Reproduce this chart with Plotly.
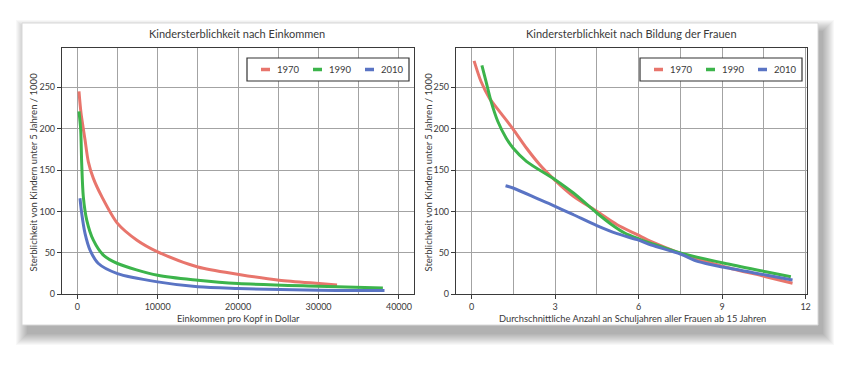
import plotly.graph_objects as go

W, H = 861, 368

# ---------------- data ----------------
inc_1970_x = [212, 462, 962, 1375, 2000, 3050, 5000, 7425, 10000, 15000, 20100, 25100, 30100, 32300]
inc_1970_y = [245, 219, 186.6, 160, 140, 118, 85.7, 65.4, 51.3, 33, 24, 17, 13, 11.3]
inc_1990_x = [212, 425, 550, 750, 1175, 2000, 3250, 5000, 10000, 15000, 20000, 30000, 38000]
inc_1990_y = [221, 198.7, 158, 118, 89.7, 65.4, 47.3, 37.2, 23, 17, 13, 9.7, 7.6]
inc_2010_x = [337, 550, 962, 1587, 2625, 5000, 10000, 15000, 20000, 30000, 38200]
inc_2010_y = [116, 97.8, 73.5, 53.3, 37.2, 25, 15, 9, 7, 4.8, 4.5]

edu_1970_x = [0.09, 0.34, 0.64, 1.0, 1.49, 1.97, 2.45, 3.0, 3.66, 4.5, 5.23, 5.95, 6.46, 7.5, 9.08, 10.57, 11.53]
edu_1970_y = [282, 257, 237, 221, 199.6, 176.7, 156.5, 137.7, 118.4, 100.2, 84, 72, 63.5, 49.5, 33.3, 21.3, 13.3]
edu_1990_x = [0.37, 0.52, 0.7, 0.94, 1.24, 1.49, 1.97, 3.0, 3.66, 4.5, 5.0, 5.5, 6.0, 6.5, 7.5, 9.08, 10.57, 11.47]
edu_1990_y = [276.6, 257, 233, 209, 188.8, 176.7, 160.6, 138.4, 122.3, 98.2, 85, 74, 67, 61, 50, 37.4, 27.3, 21.3]
edu_2010_x = [1.22, 1.49, 2.45, 3.0, 3.66, 4.5, 5.23, 5.95, 6.46, 7.5, 8.15, 9.08, 10.57, 11.53]
edu_2010_y = [131.2, 128.4, 114.3, 106.3, 96.1, 82.9, 73.2, 66, 59.5, 48.7, 39.4, 32.6, 23.3, 17.3]

years = ["1970", "1990", "2010"]
colors = ["#e8756c", "#3cb44b", "#5a74c4"]

titles = ["Kindersterblichkeit nach Einkommen", "Kindersterblichkeit nach Bildung der Frauen"]
xtitles = ["Einkommen pro Kopf in Dollar",
           "Durchschnittliche Anzahl an Schuljahren aller Frauen ab 15 Jahren"]
ytitle = "Sterblichkeit von Kindern unter 5 Jahren / 1000"
left_ticks = [0, 10000, 20000, 30000, 40000]
right_ticks = [0, 3, 6, 9, 12]
y_ticks = [0, 50, 100, 150, 200, 250]

FONT = "Lato, Roboto, sans-serif"
TXT = "#3a3a3a"


def X(px):
    return px / W


def Y(py):
    return 1 - py / H


fig = go.Figure()

left_sets = [(inc_1970_x, inc_1970_y), (inc_1990_x, inc_1990_y), (inc_2010_x, inc_2010_y)]
right_sets = [(edu_1970_x, edu_1970_y), (edu_1990_x, edu_1990_y), (edu_2010_x, edu_2010_y)]

for (xs, ys), c, yr in zip(left_sets, colors, years):
    fig.add_trace(go.Scatter(x=xs, y=ys, mode="lines", name=yr, xaxis="x", yaxis="y",
                             line=dict(color=c, width=3, shape="spline", smoothing=0.8),
                             showlegend=False, hoverinfo="skip"))
for (xs, ys), c, yr in zip(right_sets, colors, years):
    fig.add_trace(go.Scatter(x=xs, y=ys, mode="lines", name=yr, xaxis="x2", yaxis="y2",
                             line=dict(color=c, width=3, shape="spline", smoothing=0.8),
                             showlegend=False, hoverinfo="skip"))

GRID = "#a3a3a3"
AX = "#3a3a3a"
common = dict(showline=True, linecolor=AX, linewidth=1.2, mirror=True, ticks="outside",
              ticklen=4, tickcolor=AX, zeroline=False, showgrid=True, gridcolor=GRID,
              gridwidth=1, tickfont=dict(family=FONT, size=9, color=TXT), automargin=False)

left_dom = [X(62), X(414)]
right_dom = [X(456), X(807)]
ydom = [Y(294.3), Y(48)]

fig.update_layout(
    width=W, height=H,
    margin=dict(l=0, r=0, t=0, b=0),
    paper_bgcolor="white", plot_bgcolor="white",
    template="none",
    xaxis=dict(domain=left_dom, range=[-1900, 41870], tickvals=left_ticks,
               ticktext=[str(v) for v in left_ticks],
               minor=dict(tickvals=[5000, 15000, 25000, 35000], showgrid=True, gridcolor=GRID,
                          gridwidth=1, ticks=""),
               anchor="y", **common),
    yaxis=dict(domain=ydom, range=[0, 297.5], tickvals=y_ticks, ticktext=[str(v) for v in y_ticks],
               anchor="x", **common),
    xaxis2=dict(domain=right_dom, range=[-0.56, 12.05], tickvals=right_ticks,
                ticktext=[str(v) for v in right_ticks],
                minor=dict(tickvals=[1.5, 4.5, 7.5, 10.5], showgrid=True, gridcolor=GRID,
                           gridwidth=1, ticks=""),
                anchor="y2", **common),
    yaxis2=dict(domain=ydom, range=[0, 297.5], tickvals=y_ticks, ticktext=[str(v) for v in y_ticks],
                anchor="x2", **common),
)

shapes = []
# card shadow
for k in range(12):
    s = k * 1.0
    shapes.append(dict(type="rect", xref="paper", yref="paper", layer="below",
                       x0=X(22 + 5 - s), x1=X(818 + 5 + s), y0=Y(325 + 9 + s), y1=Y(23 + 8 - s),
                       fillcolor="rgba(0,0,0,0.026)", line=dict(width=0)))
# card
shapes.append(dict(type="rect", xref="paper", yref="paper", layer="below",
                   x0=X(22), x1=X(818), y0=Y(325), y1=Y(23),
                   fillcolor="white", line=dict(color="#d8d8d8", width=1)))

annotations = []
# manual legends
for lx in (247, 640):
    shapes.append(dict(type="rect", xref="paper", yref="paper", layer="above",
                       x0=X(lx), x1=X(lx + 162), y0=Y(81), y1=Y(58),
                       fillcolor="white", line=dict(color="#333333", width=1.2)))
    for i, (c, yr) in enumerate(zip(colors, years)):
        off = lx + 14 + i * 52
        shapes.append(dict(type="line", xref="paper", yref="paper", layer="above",
                           x0=X(off), x1=X(off + 9), y0=Y(69.5), y1=Y(69.5),
                           line=dict(color=c, width=3.5)))
        annotations.append(dict(xref="paper", yref="paper", x=X(off + 14), y=Y(69.5),
                                text=yr, showarrow=False, xanchor="left", yanchor="middle",
                                font=dict(family=FONT, size=9.5, color=TXT)))

# titles
for cx, t in zip((237, 631), titles):
    annotations.append(dict(xref="paper", yref="paper", x=X(cx), y=Y(34), text=t, showarrow=False,
                            xanchor="center", yanchor="middle",
                            font=dict(family=FONT, size=11, color=TXT)))
for cx, t in zip((238.5, 632), xtitles):
    annotations.append(dict(xref="paper", yref="paper", x=X(cx), y=Y(318), text=t, showarrow=False,
                            xanchor="center", yanchor="middle",
                            font=dict(family=FONT, size=9.3, color=TXT)))
for cx in (32.5, 427.5):
    annotations.append(dict(xref="paper", yref="paper", x=X(cx), y=Y(172), text=ytitle, showarrow=False,
                            xanchor="center", yanchor="middle", textangle=-90,
                            font=dict(family=FONT, size=9.5, color=TXT)))

fig.update_layout(shapes=shapes, annotations=annotations)

fig.write_html("out.html", config={"displayModeBar": False},
               post_script="document.body.style.margin='0';")
